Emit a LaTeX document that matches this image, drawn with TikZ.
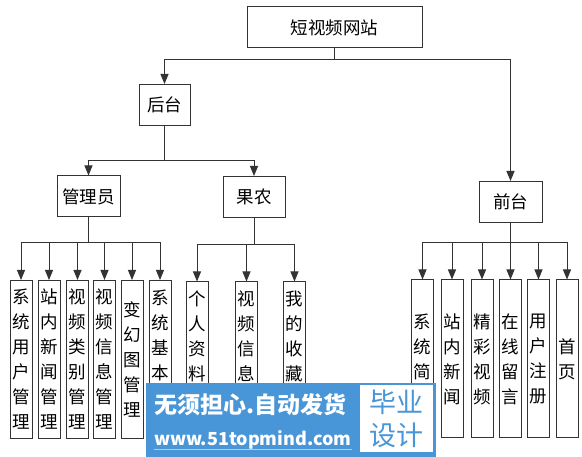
\documentclass[tikz,border=0pt]{standalone}
\usepackage{fontspec}
\setmainfont{Noto Sans CJK SC}
\usetikzlibrary{arrows.meta}
\definecolor{wmblue}{RGB}{72,150,216}

\begin{document}
\begin{tikzpicture}[x=1pt, y=-1pt, every node/.style={font=\fontsize{17.5}{25}\selectfont}, box/.style={draw=black!80, line width=1pt, inner sep=0pt, minimum height=41pt}, leaf/.style={box, minimum width=22pt, minimum height=158pt, align=center}, arr/.style={draw=black!80, line width=1pt, -{Triangle[width=8pt,length=10pt]}}]
	\useasboundingbox (0,0) rectangle (582,457);
	% upper levels
	\node[box, minimum width=175pt] (site) at (334.5,27.5) {短视频网站};
	\node[box, minimum width=51pt] (back) at (164.5,105) {后台};
	\node[box, minimum width=63pt] (front) at (510.5,202) {前台};
	\node[box, minimum width=63pt] (admin) at (88.5,196.5) {管理员};
	\node[box, minimum width=62pt] (farmer) at (254,197) {果农};
	\foreach \c in {back, front} {\draw[arr] (site.south) -- ++(0,11) -| (\c.north);}
	\foreach \c in {admin, farmer} {\draw[arr] (back.south) -- ++(0,35) -| (\c.north);}
	% admin leaves
	\node[leaf] (a1) at (21,359.5) {系\\统\\用\\户\\管\\理};
	\node[leaf] (a2) at (49,359.5) {站\\内\\新\\闻\\管\\理};
	\node[leaf] (a3) at (77.5,359.5) {视\\频\\类\\别\\管\\理};
	\node[leaf] (a4) at (104.5,359.5) {视\\频\\信\\息\\管\\理};
	\node[leaf] (a5) at (132,359.5) {变\\幻\\图\\管\\理};
	\node[leaf] (a6) at (160,359.5) {系\\统\\基\\本\\~\\~};
	\foreach \c in {a1,a2,a3,a4,a5,a6} {\draw[arr] (admin.south) -- ++(0,25) -| (\c.north);}
	% farmer leaves
	\node[leaf] (f1) at (197,361) {个\\人\\资\\料\\~\\~};
	\node[leaf] (f2) at (246.5,361) {视\\频\\信\\息\\~\\~};
	\node[leaf] (f3) at (294.5,361) {我\\的\\收\\藏\\~\\~};
	\foreach \c in {f1,f2,f3} {\draw[arr] (farmer.south) -- ++(0,27) -| (\c.north);}
	% front leaves
	\node[leaf] (p1) at (422.5,359) {系\\统\\简\\~};
	\node[leaf] (p2) at (452,359) {站\\内\\新\\闻};
	\node[leaf] (p3) at (482,359) {精\\彩\\视\\频};
	\node[leaf] (p4) at (510.5,359) {在\\线\\留\\言};
	\node[leaf] (p5) at (538.5,359) {用\\户\\注\\册};
	\node[leaf] (p6) at (567,359) {首\\页};
	\foreach \c in {p1,p2,p3,p4,p5,p6} {\draw[arr] (front.south) -- ++(0,20) -| (\c.north);}
	% watermark
	\fill[wmblue] (146,383) rectangle (436,457);
	\fill[white] (360,385) rectangle (433,452);
	\node[white, font=\fontsize{23}{25}\bfseries\selectfont, anchor=west, inner sep=0pt] (slogan) at (154,405) {无须担心.自动发货};
	\node[white, font=\fontsize{18}{20}\bfseries\selectfont, anchor=west, inner sep=0pt] (url) at (154,440) {www.51topmind.com};
	\draw[white!55!wmblue, line width=1pt] (url.south west) -- (url.south east);
	\node[wmblue, font=\fontsize{27}{33}\selectfont, align=center, inner sep=0pt] (grad) at (396.5,418.5) {毕业\\设计};
\end{tikzpicture}
\end{document}
